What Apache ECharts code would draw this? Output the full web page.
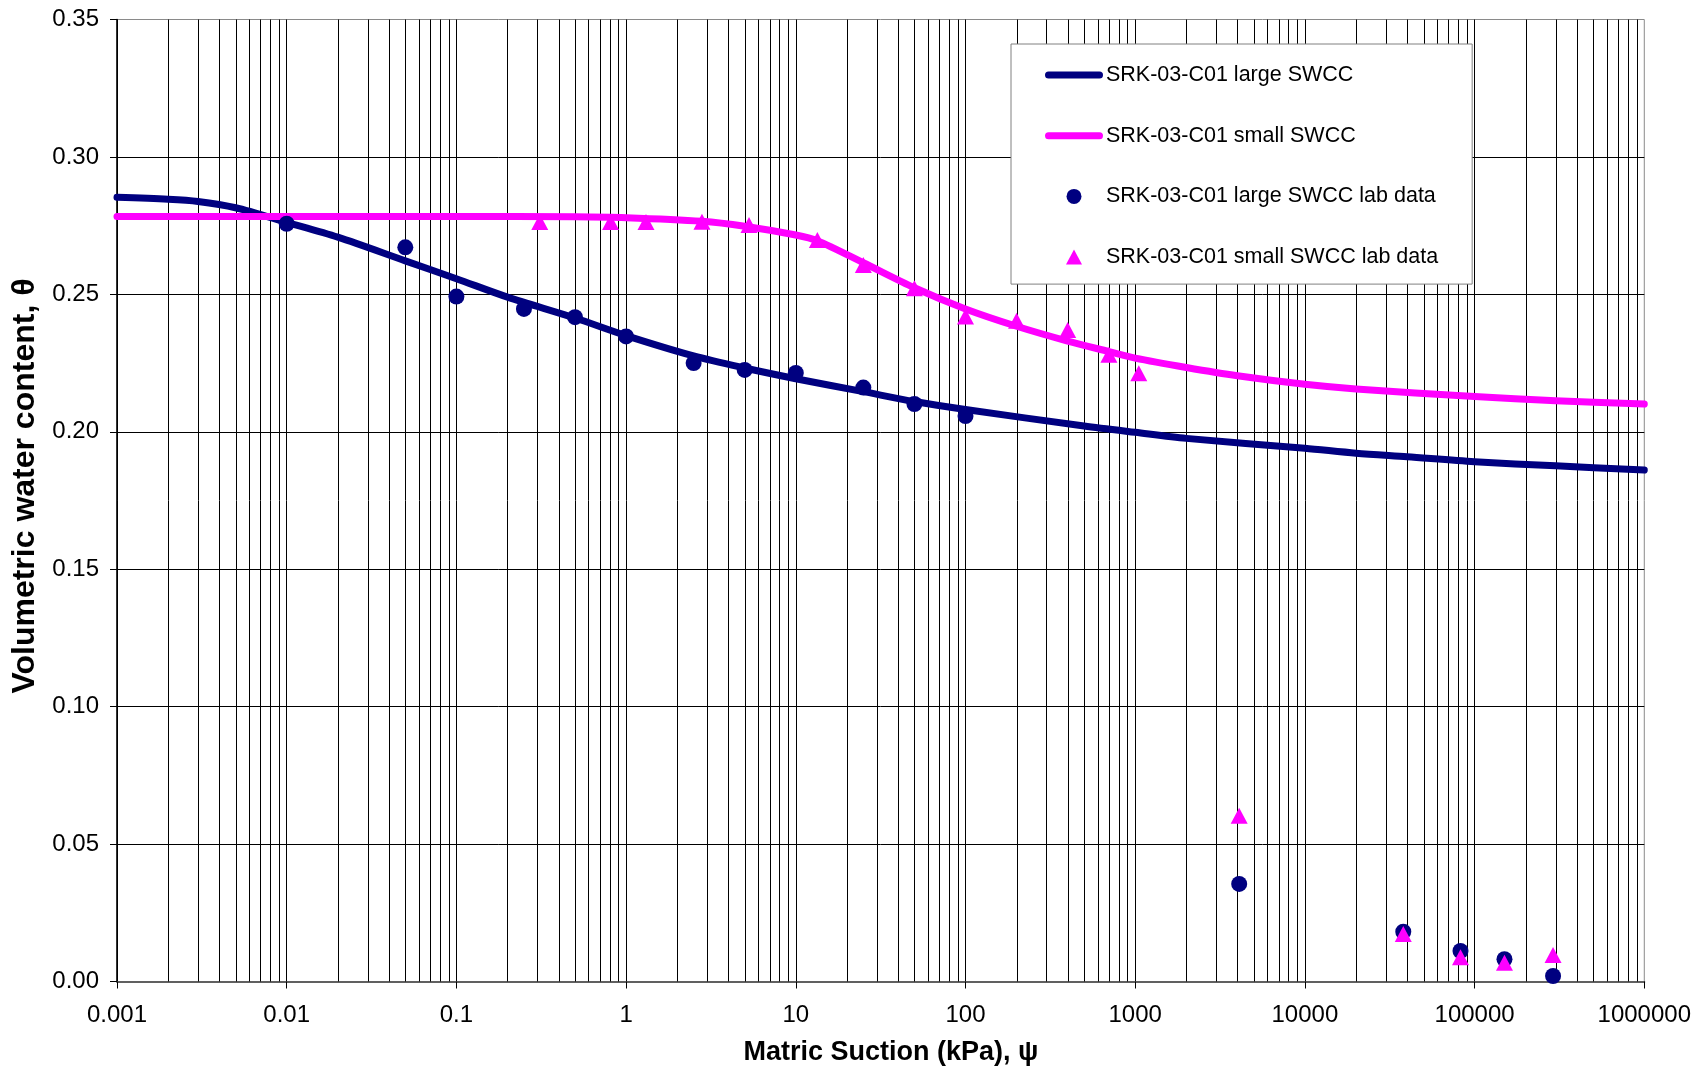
<!DOCTYPE html>
<html>
<head>
<meta charset="utf-8">
<script src="https://cdn.jsdelivr.net/npm/echarts@6/dist/echarts.min.js"></script>
<style>
  html, body { margin: 0; padding: 0; background: #fff; }
  #chart { width: 1694px; height: 1070px; }
</style>
</head>
<body>
<div id="chart"></div>
<script>
// Fitted SWCC curve, large sample (suction kPa, volumetric water content)
const largeCurveX = [0.001, 0.002, 0.003, 0.005, 0.01, 0.02, 0.05, 0.1, 0.2, 0.5, 1, 2.5, 5, 10, 25, 50, 100, 500, 1000, 2000, 10000, 20000, 40000, 100000, 300000, 1000000];
const largeCurveY = [0.2853, 0.2846, 0.2838, 0.2815, 0.2762, 0.2708, 0.2622, 0.2557, 0.2490, 0.2414, 0.2350, 0.2276, 0.2232, 0.2193, 0.2146, 0.2110, 0.2081, 0.2021, 0.1998, 0.1976, 0.1940, 0.1922, 0.1909, 0.1891, 0.1876, 0.1861];

// Fitted SWCC curve, small sample
const smallCurveX = [0.001, 0.01, 0.1, 0.5, 1, 2.8, 5, 10, 13.4, 25, 50, 100, 200, 400, 700, 1000, 2000, 4000, 10000, 20000, 100000, 300000, 1000000];
const smallCurveY = [0.2783, 0.2783, 0.2783, 0.2782, 0.2779, 0.2766, 0.2748, 0.2716, 0.2695, 0.2615, 0.2524, 0.2447, 0.2384, 0.2330, 0.2292, 0.2268, 0.2234, 0.2204, 0.2173, 0.2156, 0.2128, 0.2113, 0.2101];

// Laboratory measurements, large sample
const largeLabX = [0.01, 0.05, 0.1, 0.25, 0.5, 1, 2.5, 5, 10, 25, 50, 100, 4100, 38000, 82600, 150000, 290000];
const largeLabY = [0.2757, 0.2671, 0.2492, 0.2447, 0.2417, 0.2347, 0.2250, 0.2225, 0.2214, 0.2161, 0.2101, 0.2057, 0.0355, 0.0181, 0.0111, 0.0081, 0.0020];

// Laboratory measurements, small sample
const smallLabX = [0.31, 0.81, 1.31, 2.8, 5.3, 13.4, 25, 50, 100, 200, 400, 700, 1050, 4100, 38000, 82600, 150000, 290000];
const smallLabY = [0.2763, 0.2763, 0.2763, 0.2764, 0.2752, 0.2698, 0.2607, 0.2522, 0.2419, 0.2404, 0.2370, 0.2280, 0.2213, 0.0603, 0.0173, 0.0088, 0.0068, 0.0096];

// Axis tick labels
const xTickLabels = ['0.001', '0.01', '0.1', '1', '10', '100', '1000', '10000', '100000', '1000000'];
const yTickLabels = ['0.00', '0.05', '0.10', '0.15', '0.20', '0.25', '0.30', '0.35'];

const seriesNames = [
  'SRK-03-C01 large SWCC',
  'SRK-03-C01 small SWCC',
  'SRK-03-C01 large SWCC lab data',
  'SRK-03-C01 small SWCC lab data'
];

const NAVY = '#000080';
const MAGENTA = '#FF00FF';
const FONT = '"Liberation Sans", Arial, Helvetica, sans-serif';

const zip = (xs, ys) => xs.map((x, i) => [x, ys[i]]);

// Intermediate (2..9 x 10^k) gridlines of the logarithmic suction axis
const minorGridValues = [];
for (let e = -3; e < 6; e++) {
  for (let m = 2; m <= 9; m++) minorGridValues.push([m * Math.pow(10, e), 0]);
}

const chart = echarts.init(document.getElementById('chart'), null, { renderer: 'canvas' });

const linePath = 'path://M3.5,0H54.5A3.5,3.5,0,0,1,54.5,7H3.5A3.5,3.5,0,0,1,3.5,0Z';
const triPath = 'path://M8,0L16,15L0,15Z';

chart.setOption({
  animation: false,
  backgroundColor: '#fff',
  grid: {
    left: 117, right: 49, top: 19.5, bottom: 88.5,
    show: true, borderColor: '#8a8a8a', borderWidth: 1, backgroundColor: 'transparent'
  },
  xAxis: {
    type: 'log',
    logBase: 10,
    min: 0.001,
    max: 1000000,
    interval: 1,
    splitNumber: 9,
    axisLine: { show: true, onZero: false, lineStyle: { color: '#606060', width: 2 } },
    axisTick: { show: true, length: 7, lineStyle: { color: '#000', width: 1 } },
    axisLabel: {
      margin: 22,
      color: '#000',
      fontSize: 24,
      fontFamily: FONT,
      formatter: v => xTickLabels[Math.round(Math.log10(v)) + 3]
    },
    splitLine: { show: true, showMaxLine: false, lineStyle: { color: '#000', width: 1 } }
  },
  yAxis: {
    type: 'value',
    min: 0,
    max: 0.35,
    interval: 0.05,
    axisLine: { show: true, lineStyle: { color: '#000', width: 1.5 } },
    axisTick: { show: true, length: 7, lineStyle: { color: '#000', width: 1 } },
    axisLabel: {
      margin: 18,
      color: '#000',
      fontSize: 24,
      fontFamily: FONT,
      formatter: v => yTickLabels[Math.round(v / 0.05)]
    },
    splitLine: { show: true, showMaxLine: false, lineStyle: { color: '#000', width: 1 } }
  },
  legend: {
    orient: 'vertical',
    left: 1011,
    top: 44,
    padding: [20, 34, 16, 34],
    itemGap: 38.7,
    itemWidth: 58,
    itemHeight: 15,
    backgroundColor: '#fff',
    borderColor: '#808080',
    borderWidth: 1,
    selectedMode: false,
    itemStyle: { borderWidth: 0 },
    textStyle: { fontSize: 21.5, lineHeight: 22, fontFamily: FONT, color: '#000', padding: [0, 0, 0, -2] },
    data: [
      { name: seriesNames[0], icon: linePath, itemStyle: { color: NAVY, borderWidth: 0 } },
      { name: seriesNames[1], icon: linePath, itemStyle: { color: MAGENTA, borderWidth: 0 } },
      { name: seriesNames[2], icon: 'circle', itemStyle: { color: NAVY, borderWidth: 0 } },
      { name: seriesNames[3], icon: triPath, itemStyle: { color: MAGENTA, borderWidth: 0 } }
    ]
  },
  graphic: [
    {
      type: 'text',
      x: 25, y: 486,
      rotation: Math.PI / 2,
      style: {
        text: 'Volumetric water content, θ',
        font: 'bold 32px ' + FONT,
        fill: '#000',
        textAlign: 'center',
        textVerticalAlign: 'middle'
      }
    },
    {
      type: 'text',
      x: 891, y: 1053,
      style: {
        text: 'Matric Suction (kPa), ψ',
        font: 'bold 27px ' + FONT,
        fill: '#000',
        textAlign: 'center',
        textVerticalAlign: 'middle'
      }
    }
  ],
  series: [
    {
      type: 'custom',
      name: 'minor-grid',
      silent: true,
      z: 1,
      data: minorGridValues,
      renderItem: (params, api) => {
        const v = api.value(0);
        const top = api.coord([v, 0.35]);
        const bot = api.coord([v, 0]);
        const x = Math.round(top[0]) + 0.5;
        return {
          type: 'line',
          shape: { x1: x, y1: top[1], x2: x, y2: bot[1] },
          style: { stroke: '#000', lineWidth: 1 }
        };
      }
    },
    {
      type: 'line',
      name: seriesNames[0],
      data: zip(largeCurveX, largeCurveY),
      smooth: 0.3,
      symbol: 'none',
      color: NAVY,
      lineStyle: { color: NAVY, width: 7, cap: 'round', join: 'round' },
      z: 3
    },
    {
      type: 'line',
      name: seriesNames[1],
      data: zip(smallCurveX, smallCurveY),
      smooth: 0.3,
      symbol: 'none',
      color: MAGENTA,
      lineStyle: { color: MAGENTA, width: 7, cap: 'round', join: 'round' },
      z: 3
    },
    {
      type: 'scatter',
      name: seriesNames[2],
      data: zip(largeLabX, largeLabY),
      symbol: 'circle',
      symbolSize: 16,
      itemStyle: { color: NAVY, opacity: 1 },
      z: 4
    },
    {
      type: 'scatter',
      name: seriesNames[3],
      data: zip(smallLabX, smallLabY),
      symbol: 'triangle',
      symbolSize: [17, 16],
      itemStyle: { color: MAGENTA, opacity: 1 },
      z: 5
    }
  ]
});
</script>
</body>
</html>
